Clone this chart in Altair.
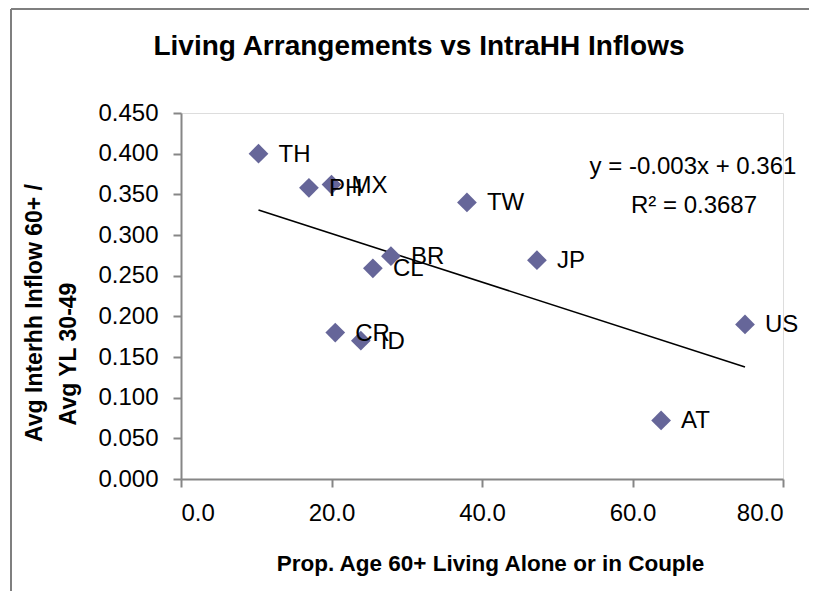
import altair as alt
import pandas as pd

countries = ["TH", "PH", "MX", "CL", "BR", "CR", "ID", "TW", "JP", "US", "AT"]
prop_alone = [10.3, 17.0, 20.0, 25.5, 27.9, 20.5, 23.9, 38.0, 47.3, 74.95, 63.8]
inflow_ratio = [0.400, 0.358, 0.362, 0.259, 0.274, 0.180, 0.170, 0.340, 0.269, 0.190, 0.072]

x_ticks = [0, 20, 40, 60, 80]
y_ticks = [0.0, 0.05, 0.10, 0.15, 0.20, 0.25, 0.30, 0.35, 0.40, 0.45]

equation_line = ["y = -0.003x + 0.361"]
r2_line = ["R\u00b2 = 0.3687"]
y_title_line1 = ["Avg Interhh Inflow 60+ /"]
y_title_line2 = ["Avg YL 30-49"]

df = pd.DataFrame({"country": countries, "x": prop_alone, "y": inflow_ratio})

FONT = "Liberation Sans, Arial, sans-serif"
GRAY = "#868686"

xs = alt.Scale(domain=[0, 80], nice=False, zero=True)
ys = alt.Scale(domain=[0, 0.45], nice=False, zero=True)

x_enc = alt.X("x:Q", scale=xs, axis=alt.Axis(
    values=x_ticks, format=".1f", grid=False, title="Prop. Age 60+ Living Alone or in Couple",
    domainColor=GRAY, tickColor=GRAY, tickSize=8, domainWidth=2, tickWidth=2,
    labelFont=FONT, labelFontSize=24, labelColor="black", labelPadding=14,
    titleFont=FONT, titleFontSize=22.5, titleFontWeight="bold", titleColor="black",
    titlePadding=27, titleX=309))
y_enc = alt.Y("y:Q", scale=ys, axis=alt.Axis(
    values=y_ticks, format=".3f", grid=False, title=None,
    domainColor=GRAY, tickColor=GRAY, tickSize=8, domainWidth=2, tickWidth=2,
    labelFont=FONT, labelFontSize=24, labelColor="black", labelPadding=15))

base = alt.Chart(df)

points = base.mark_point(shape="diamond", filled=True, size=390, color="#666699", opacity=1).encode(
    x=x_enc, y=y_enc)

labels = base.mark_text(align="left", baseline="middle", dx=20, dy=1, font=FONT, fontSize=24,
                        color="black").encode(x="x:Q", y="y:Q", text="country:N")

trend = base.transform_regression("x", "y").mark_line(color="black", strokeWidth=1.6).encode(
    x="x:Q", y="y:Q")

eq1 = alt.Chart(pd.DataFrame({"t": equation_line})).mark_text(
    align="center", baseline="middle", font=FONT, fontSize=24, color="black").encode(
    text="t:N", x=alt.value(512), y=alt.value(54))
eq2 = alt.Chart(pd.DataFrame({"t": r2_line})).mark_text(
    align="center", baseline="middle", font=FONT, fontSize=24, color="black").encode(
    text="t:N", x=alt.value(513), y=alt.value(93))

yt1 = alt.Chart(pd.DataFrame({"t": y_title_line1})).mark_text(
    align="center", baseline="middle", angle=270, font=FONT, fontSize=23, fontWeight="bold",
    color="black").encode(text="t:N", x=alt.value(-146), y=alt.value(200))
yt2 = alt.Chart(pd.DataFrame({"t": y_title_line2})).mark_text(
    align="center", baseline="middle", angle=270, font=FONT, fontSize=23, fontWeight="bold",
    color="black").encode(text="t:N", x=alt.value(-112), y=alt.value(241))

one = pd.DataFrame({"k": [0]})
frame_left = alt.Chart(one).mark_rule(color="#7f7f7f", strokeWidth=2).encode(
    x=alt.value(-170), y=alt.value(-104), y2=alt.value(600))
frame_top = alt.Chart(one).mark_rule(color="#7f7f7f", strokeWidth=2).encode(
    x=alt.value(-170), x2=alt.value(700), y=alt.value(-104))

chart = alt.layer(frame_left, frame_top, trend, points, labels, eq1, eq2, yt1, yt2).properties(
    width=602, height=366,
    autosize=alt.AutoSizeParams(type="none"),
    padding={"left": 173, "top": 105, "right": 26, "bottom": 112},
    title=alt.TitleParams("Living Arrangements vs IntraHH Inflows", font=FONT, fontSize=28,
                          fontWeight="bold", color="black", anchor="middle", dx=-63,
                          baseline="alphabetic", offset=0, dy=75),
).configure_view(stroke="transparent").configure(background="white")

chart.save("out.html", embed_options={"renderer": "svg", "actions": False})
